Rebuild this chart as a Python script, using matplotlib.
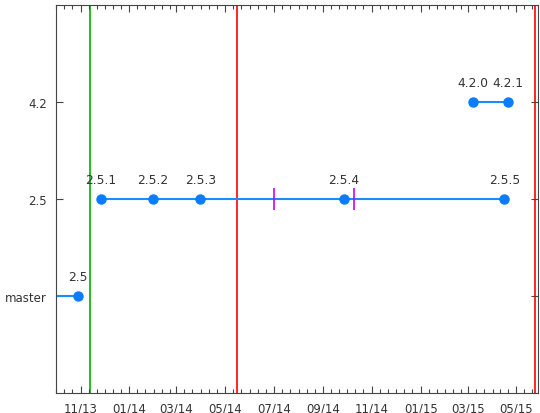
import datetime as dt

import matplotlib
matplotlib.use("Agg")
import matplotlib.dates as mdates
from matplotlib import pyplot as plt

# branch rows on the y axis
branches = ["master", "2.5", "4.2"]
branch_pos = [1, 2, 3]

# release points per branch
master_dates = [dt.date(2013, 9, 1), dt.date(2013, 10, 29)]
master_labels = ["", "2.5"]

b25_dates = [dt.date(2013, 11, 26), dt.date(2014, 1, 30), dt.date(2014, 3, 31),
             dt.date(2014, 9, 27), dt.date(2015, 4, 16)]
b25_labels = ["2.5.1", "2.5.2", "2.5.3", "2.5.4", "2.5.5"]

b42_dates = [dt.date(2015, 3, 8), dt.date(2015, 4, 20)]
b42_labels = ["4.2.0", "4.2.1"]

# short marks on the 2.5 line
mark_dates = [dt.date(2014, 7, 1), dt.date(2014, 10, 10)]

# vertical event lines
green_dates = [dt.date(2013, 11, 13)]
red_dates = [dt.date(2014, 5, 16), dt.date(2015, 5, 24)]

x_start = dt.date(2013, 10, 1)
x_end = dt.date(2015, 5, 28)

blue = "#1a8cff"
dot = "#0a7cff"
txt = "#333333"

fig = plt.figure(figsize=(5.4, 4.14), dpi=100)
ax = fig.add_axes([56 / 540, 20 / 414, 482 / 540, 388 / 414])

for d in green_dates:
    ax.axvline(d, color="#00b000", lw=1.2, zorder=1)
for d in red_dates:
    ax.axvline(d, color="#ff0000", lw=1.2, zorder=1)


def draw_branch(dates, labels, y):
    ax.plot(dates, [y] * len(dates), color=blue, lw=1.5, zorder=2)
    for d, lab in zip(dates, labels):
        if not lab:
            continue
        ax.plot([d], [y], "o", color=dot, ms=6.5, zorder=3)
        ax.annotate(lab, (mdates.date2num(d), y), xytext=(0, 9.5), textcoords="offset points",
                    ha="center", va="bottom", fontsize=8.8, color=txt)


draw_branch(master_dates, master_labels, branch_pos[0])
draw_branch(b25_dates, b25_labels, branch_pos[1])
draw_branch(b42_dates, b42_labels, branch_pos[2])

ax.plot(mark_dates, [branch_pos[1]] * len(mark_dates), "|", color="#cc00ff", ms=16, mew=1.2, zorder=3)

ax.set_xlim(x_start, x_end)
ax.set_ylim(0, 4)
ax.set_yticks(branch_pos)
ax.set_yticklabels(branches)

ax.xaxis.set_major_locator(mdates.MonthLocator(bymonth=[1, 3, 5, 7, 9, 11]))
ax.xaxis.set_major_formatter(mdates.DateFormatter("%m/%y"))
ax.xaxis.set_minor_locator(mdates.DayLocator(bymonthday=[1, 11, 21]))

ax.tick_params(which="both", direction="in", top=True, right=True, colors="#444444",
               labelcolor=txt, labelsize=8.5)
ax.tick_params(which="major", length=5, width=0.8)
ax.tick_params(which="minor", length=3, width=0.8)
ax.tick_params(axis="x", pad=6)
ax.tick_params(axis="y", pad=6.5)
for s in ax.spines.values():
    s.set_color("#444444")
    s.set_linewidth(0.8)

fig.savefig("out.png", dpi=100)
